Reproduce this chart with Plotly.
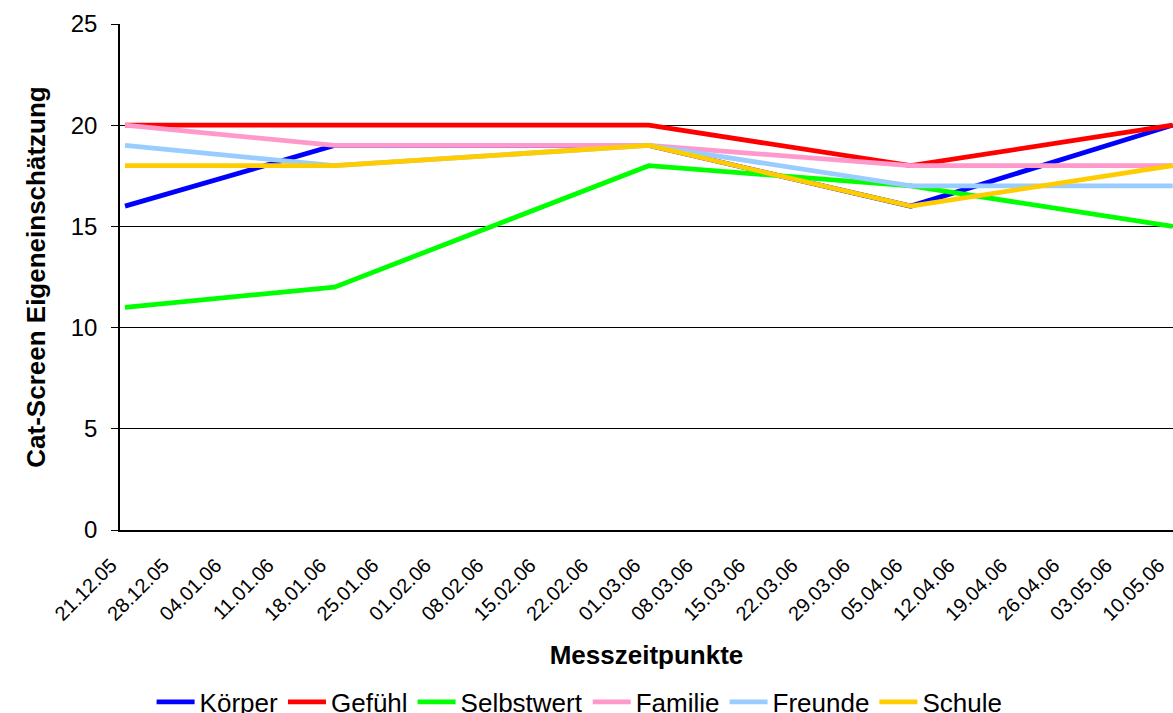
import plotly.graph_objects as go

# --- data ---
dates = ["2005-12-21", "2006-01-18", "2006-03-01", "2006-04-05", "2006-05-10"]
koerper = [16, 19, 19, 16, 20]
gefuehl = [20, 20, 20, 18, 20]
selbstwert = [11, 12, 18, 17, 15]
familie = [20, 19, 19, 18, 18]
freunde = [19, 18, 19, 17, 17]
schule = [18, 18, 19, 16, 18]

tick_dates = ["2005-12-21", "2005-12-28", "2006-01-04", "2006-01-11", "2006-01-18",
              "2006-01-25", "2006-02-01", "2006-02-08", "2006-02-15", "2006-02-22",
              "2006-03-01", "2006-03-08", "2006-03-15", "2006-03-22", "2006-03-29",
              "2006-04-05", "2006-04-12", "2006-04-19", "2006-04-26", "2006-05-03",
              "2006-05-10"]
tick_labels = ["21.12.05", "28.12.05", "04.01.06", "11.01.06", "18.01.06",
               "25.01.06", "01.02.06", "08.02.06", "15.02.06", "22.02.06",
               "01.03.06", "08.03.06", "15.03.06", "22.03.06", "29.03.06",
               "05.04.06", "12.04.06", "19.04.06", "26.04.06", "03.05.06",
               "10.05.06"]

series = [
    ("Körper", koerper, "#0000FF"),
    ("Gefühl", gefuehl, "#FF0000"),
    ("Selbstwert", selbstwert, "#00FF00"),
    ("Familie", familie, "#FF99CC"),
    ("Freunde", freunde, "#99CCFF"),
    ("Schule", schule, "#FFCC00"),
]

FONT = "Liberation Sans, Arial, sans-serif"

fig = go.Figure()
for name, vals, col in series:
    fig.add_trace(go.Scatter(
        x=dates, y=vals, name=name, mode="lines",
        line=dict(color=col, width=4.8),
        cliponaxis=False,
    ))

fig.update_layout(
    width=1173, height=713,
    margin=dict(l=120, r=0, t=24, b=183, autoexpand=False),
    paper_bgcolor="white", plot_bgcolor="white",
    font=dict(family=FONT, color="black"),
    showlegend=True,
    legend=dict(
        orientation="h", x=0.030, xanchor="left", y=-0.34, yanchor="middle",
        font=dict(size=26, family=FONT, color="black"),
        bgcolor="rgba(0,0,0,0)", itemwidth=38, tracegroupgap=0,
    ),
)

fig.update_xaxes(
    type="date",
    range=["2005-12-20 08:00", "2006-05-10 01:00"],
    tickmode="array", tickvals=tick_dates, ticktext=tick_labels,
    tickangle=-45, tickfont=dict(size=20, family=FONT, color="black"),
    ticklabelstandoff=14, ticklabelshift=-14,
    ticks="", showgrid=False, zeroline=False,
    showline=True, linecolor="black", linewidth=1.5,
    title=dict(text="<b>Messzeitpunkte</b>", font=dict(size=26, family=FONT, color="black"), standoff=22),
    automargin=False,
)

fig.update_yaxes(
    range=[0, 25], tick0=0, dtick=5,
    ticks="outside", ticklen=7, tickcolor="black", tickwidth=1,
    tickfont=dict(size=24, family=FONT, color="black"),
    ticklabelstandoff=9,
    showgrid=True, gridcolor="black", gridwidth=1,
    zeroline=False,
    showline=True, linecolor="black", linewidth=1.5,
    title=dict(text="<b>Cat-Screen Eigeneinschätzung</b>", font=dict(size=26, family=FONT, color="black"), standoff=18),
    automargin=False,
)

fig.write_html("out.html", config={"displayModeBar": False},
               post_script="document.body.style.margin='0px';")
